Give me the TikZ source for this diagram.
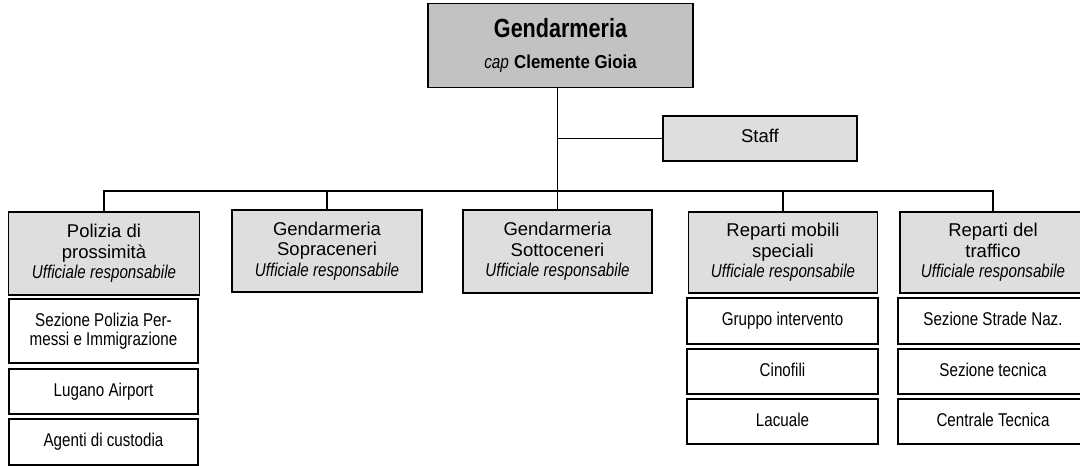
\documentclass[tikz,border=0pt]{standalone}
\usepackage{fontspec}
\setmainfont{Liberation Sans}
\newfontfamily\narrowfont[FakeStretch=0.82]{Liberation Sans}
\newfontfamily\capofont[FakeStretch=0.9]{Liberation Sans}
\definecolor{capogray}{gray}{0.76}
\definecolor{repgray}{gray}{0.87}
\newcommand{\su}{\rule[-4.4pt]{0pt}{17.6pt}}
\newcommand{\resp}{{\narrowfont\itshape Ufficiale responsabile}}

\begin{document}
\begin{tikzpicture}[x=1pt,y=-1pt,line width=1.3pt,
		capo/.style={draw,fill=capogray,minimum width=265pt,minimum height=84pt,align=center,inner sep=0pt,font=\fontsize{18.7}{30.6}\selectfont},
		reparto/.style={draw,fill=repgray,minimum height=82pt,align=center,inner sep=0pt,font=\fontsize{18.5}{20.5}\selectfont,
			execute at begin node=\su,execute at end node=\su},
		sezione/.style={draw,fill=white,align=center,inner sep=0pt,font=\narrowfont\fontsize{18.5}{19}\selectfont,
			execute at begin node=\su,execute at end node=\su}]
			\useasboundingbox (0,0) rectangle (1080,466);
			\node[capo] (gend) at (560.5,45.5) {{\narrowfont\bfseries\fontsize{26.3}{30.6}\selectfont Gendarmeria}\\{\narrowfont\itshape cap} {\capofont\bfseries Clemente Gioia}};
			\node[reparto,minimum width=194pt,minimum height=45pt] (staff) at (760,138.5) {Staff};
			\node[reparto,minimum width=191pt,minimum height=83pt] (poliz) at (104,253.5) {Polizia di\\prossimità\\\resp};
			\node[reparto,minimum width=190pt] (sopra) at (327,251) {Gendarmeria\\Sopraceneri\\\resp};
			\node[reparto,minimum width=189pt,minimum height=83pt] (sotto) at (557.5,251.5) {Gendarmeria\\Sottoceneri\\\resp};
			\node[reparto,minimum width=189pt,minimum height=81pt] (mobili) at (783,252.5) {Reparti mobili\\speciali\\\resp};
			\node[reparto,minimum width=186pt,minimum height=81pt] (traff) at (993,252.5) {Reparti del\\traffico\\\resp};
			\node[sezione,minimum width=189pt,minimum height=64pt] (poliz-1) at (103.5,331) {Sezione Polizia Per-\\messi e Immigrazione};
			\node[sezione,minimum width=189pt,minimum height=45pt] (poliz-2) at (103.5,391.5) {Lugano Airport};
			\node[sezione,minimum width=189pt,minimum height=46pt] (poliz-3) at (103.5,442) {Agenti di custodia};
			\node[sezione,minimum width=191pt,minimum height=46pt] (mobili-1) at (782.5,321) {Gruppo intervento};
			\node[sezione,minimum width=191pt,minimum height=45pt] (mobili-2) at (782.5,371.5) {Cinofili};
			\node[sezione,minimum width=191pt,minimum height=45pt] (mobili-3) at (782.5,421.5) {Lacuale};
			\node[sezione,minimum width=190pt,minimum height=46pt] (traff-1) at (993,321) {Sezione Strade Naz.};
			\node[sezione,minimum width=190pt,minimum height=45pt] (traff-2) at (993,371.5) {Sezione tecnica};
			\node[sezione,minimum width=190pt,minimum height=45pt] (traff-3) at (993,421.5) {Centrale Tecnica};
			\coordinate (bus) at (557.5,191);
			\draw (gend.south -| sotto.north) -- (sotto.north);
			\draw (staff.west) -- (staff.west -| sotto.north);
			\draw (poliz.north) |- (bus) -| (traff.north);
			\draw (sopra.north) -- (sopra.north |- bus);
			\draw (mobili.north) -- (mobili.north |- bus);
		\end{tikzpicture}
\end{document}
